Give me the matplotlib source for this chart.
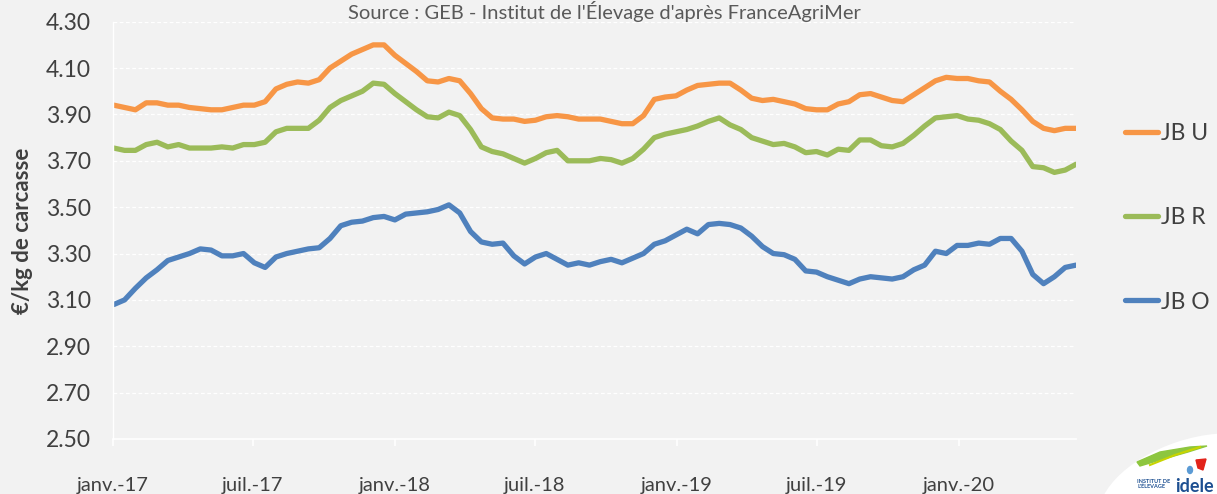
import matplotlib
matplotlib.use('Agg')
import matplotlib.pyplot as plt
from matplotlib.patches import Ellipse, Polygon
import pandas as pd

"""values read from the chart (EUR/kg carcass, every 2 weeks)"""

dates = pd.date_range('2017-01-02', periods=90, freq='14D')

jb_u = [3.94, 3.93, 3.92, 3.95, 3.95, 3.94, 3.94, 3.93, 3.925, 3.92,
        3.92, 3.93, 3.94, 3.94, 3.955, 4.01, 4.03, 4.04, 4.035, 4.05,
        4.10, 4.13, 4.16, 4.18, 4.20, 4.20, 4.155, 4.12, 4.085, 4.045,
        4.04, 4.055, 4.045, 3.99, 3.925, 3.885, 3.88, 3.88, 3.87, 3.875,
        3.89, 3.895, 3.89, 3.88, 3.88, 3.88, 3.87, 3.86, 3.86, 3.895,
        3.965, 3.975, 3.98, 4.005, 4.025, 4.03, 4.035, 4.035, 4.005, 3.97,
        3.96, 3.965, 3.955, 3.945, 3.925, 3.92, 3.92, 3.945, 3.955, 3.985,
        3.99, 3.975, 3.96, 3.955, 3.985, 4.015, 4.045, 4.06, 4.055, 4.055,
        4.045, 4.04, 4.00, 3.965, 3.92, 3.87, 3.84, 3.83, 3.84, 3.84]

jb_r = [3.755, 3.745, 3.745, 3.77, 3.78, 3.76, 3.77, 3.755, 3.755, 3.755,
        3.76, 3.755, 3.77, 3.77, 3.78, 3.825, 3.84, 3.84, 3.84, 3.875,
        3.93, 3.96, 3.98, 4.00, 4.035, 4.03, 3.99, 3.955, 3.92, 3.89,
        3.885, 3.91, 3.895, 3.835, 3.76, 3.74, 3.73, 3.71, 3.69, 3.71,
        3.735, 3.745, 3.70, 3.70, 3.70, 3.71, 3.705, 3.69, 3.71, 3.75,
        3.80, 3.815, 3.825, 3.835, 3.85, 3.87, 3.885, 3.855, 3.835, 3.80,
        3.785, 3.77, 3.775, 3.76, 3.735, 3.74, 3.725, 3.75, 3.745, 3.79,
        3.79, 3.765, 3.76, 3.775, 3.81, 3.85, 3.885, 3.89, 3.895, 3.88,
        3.875, 3.86, 3.835, 3.785, 3.745, 3.675, 3.67, 3.65, 3.66, 3.685]

jb_o = [3.08, 3.10, 3.15, 3.195, 3.23, 3.27, 3.285, 3.30, 3.32, 3.315,
        3.29, 3.29, 3.30, 3.26, 3.24, 3.285, 3.30, 3.31, 3.32, 3.325,
        3.365, 3.42, 3.435, 3.44, 3.455, 3.46, 3.445, 3.47, 3.475, 3.48,
        3.49, 3.51, 3.475, 3.395, 3.35, 3.34, 3.345, 3.29, 3.255, 3.285,
        3.30, 3.275, 3.25, 3.26, 3.25, 3.265, 3.275, 3.26, 3.28, 3.30,
        3.34, 3.355, 3.38, 3.405, 3.385, 3.425, 3.43, 3.425, 3.41, 3.375,
        3.33, 3.30, 3.295, 3.275, 3.225, 3.22, 3.20, 3.185, 3.17, 3.19,
        3.20, 3.195, 3.19, 3.20, 3.23, 3.25, 3.31, 3.30, 3.335, 3.335,
        3.345, 3.34, 3.365, 3.365, 3.31, 3.21, 3.17, 3.20, 3.24, 3.25]

tick_dates = ['2017-01-01', '2017-07-01', '2018-01-01', '2018-07-01',
              '2019-01-01', '2019-07-01', '2020-01-01']
tick_labels = ['janv.-17', 'juil.-17', 'janv.-18', 'juil.-18',
               'janv.-19', 'juil.-19', 'janv.-20']
yticks = [2.50, 2.70, 2.90, 3.10, 3.30, 3.50, 3.70, 3.90, 4.10, 4.30]

bg = '#f2f2f2'
txt = '#404040'
plt.rcParams['font.family'] = ['Lato', 'DejaVu Sans']

W, H = 1217, 494
fig = plt.figure(figsize=(W / 100, H / 100), dpi=100, facecolor=bg)
ax = fig.add_axes([113 / W, 1 - 439 / H, (1076 - 113) / W, (439 - 21.7) / H])
ax.set_facecolor(bg)

ax.plot(dates, jb_u, color='#f79646', lw=3.8, label='JB U', solid_capstyle='round')
ax.plot(dates, jb_r, color='#9bbb59', lw=3.8, label='JB R', solid_capstyle='round')
ax.plot(dates, jb_o, color='#4f81bd', lw=3.8, label='JB O', solid_capstyle='round')

ax.set_ylim(2.50, 4.30)
ax.set_yticks(yticks)
ax.set_yticklabels(['%.2f' % v for v in yticks])
ax.set_xlim(pd.Timestamp('2017-01-01'), pd.Timestamp('2020-06-01'))
ax.set_xticks([pd.Timestamp(d) for d in tick_dates])
ax.set_xticklabels(tick_labels)

ax.grid(axis='y', color='white', lw=0.9, ls=(0, (3, 2)))
ax.set_axisbelow(True)
for s in ['top', 'right']:
    ax.spines[s].set_visible(False)
ax.spines['bottom'].set_color('white')
ax.spines['bottom'].set_linewidth(1.2)
ax.spines['left'].set_color('white')
ax.spines['left'].set_linewidth(1.0)
ax.tick_params(axis='y', length=0, pad=16, labelsize=16.5, labelcolor=txt)
ax.tick_params(axis='x', length=5, color='white', width=1.2, pad=22,
               labelsize=14.5, labelcolor=txt)

ax.set_ylabel('€/kg de carcasse', fontsize=16, fontweight='bold', color=txt,
              labelpad=9)

fig.text(604 / W, 1 - 1.5 / H, "Source : GEB - Institut de l'Élevage d'après FranceAgriMer",
         ha='center', va='top', fontsize=14.5, color='#595959')

leg = ax.legend(loc='center left', bbox_to_anchor=(1125 / W, 1 - 218 / H),
                bbox_transform=fig.transFigure, frameon=False, fontsize=16.5,
                labelspacing=2.75, handlelength=1.45, handletextpad=0.1,
                borderaxespad=0, borderpad=0)
for t in leg.get_texts():
    t.set_color(txt)

# idele logo, rough
lax = fig.add_axes([0, 0, 1, 1], facecolor='none')
lax.set_xlim(0, W)
lax.set_ylim(H, 0)
lax.axis('off')
blob = Ellipse((1195, 494), 200, 110, angle=-18, facecolor='#ffffff',
               edgecolor='none', zorder=1, clip_on=False)
lax.add_artist(blob)
lax.add_patch(Polygon([[1137, 462], [1160, 452], [1190, 447], [1207, 446],
                       [1188, 452], [1160, 460], [1140, 466]],
                      closed=True, color='#8dc63f', zorder=2))
lax.plot([1150, 1175, 1200], [465, 455, 447], color='#c8d400', lw=1.5, zorder=3)
lax.add_patch(Polygon([[1196, 460], [1206, 459], [1203, 470], [1198, 468]],
                      closed=True, color='#e2231a', zorder=2))
lax.add_patch(Ellipse((1190, 470), 5, 7, color='#5b9bd5', zorder=2))
lax.text(1137, 484, "INSTITUT DE\nL'ÉLEVAGE", fontsize=4, fontweight='bold',
         color='#1d4f91', va='center', ha='left', linespacing=1.0, zorder=3)
lax.text(1175, 486, 'idele', fontsize=13, fontweight='bold', color='#1d4f91',
         va='center', ha='left', zorder=3)

fig.savefig('out.png', dpi=100, facecolor=bg)
